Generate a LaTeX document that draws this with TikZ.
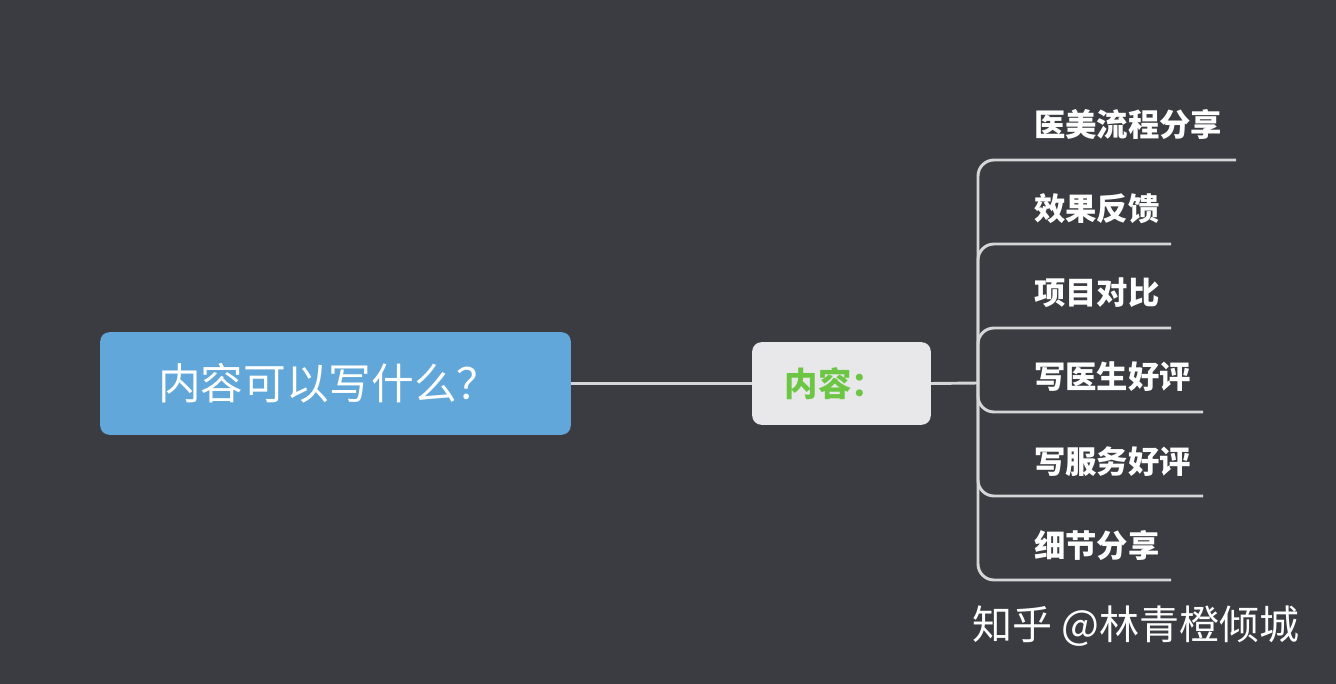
\documentclass[tikz,border=0pt]{standalone}
\usepackage{fontspec}
\setmainfont{Noto Sans CJK SC}
\usetikzlibrary{positioning}
\definecolor{bgc}{HTML}{3B3C41}
\definecolor{rootc}{HTML}{62A7D9}
\definecolor{boxc}{HTML}{E8E8EA}
\definecolor{greenc}{HTML}{6CC644}
\definecolor{linec}{HTML}{D6D6D8}
\tikzset{
  branch/.style={draw=linec,line width=2.2pt},
  leaf/.style={anchor=base west,text=white,font=\fontsize{23.5}{23.5}\selectfont\bfseries,inner sep=0pt}
}
\begin{document}
\begin{tikzpicture}[x=0.75pt,y=-0.75pt]
  \fill[bgc] (0,0) rectangle (1336,684);
  \node[fill=rootc,rounded corners=7pt,minimum width=353pt,minimum height=77pt,text=white,
        font=\fontsize{32}{32}\selectfont] (root) at (335.5,383.5) {\hspace*{-10pt}内容可以写什么？};
  \node[fill=boxc,rounded corners=7pt,minimum width=134pt,minimum height=62pt,text=greenc,
        font=\fontsize{25}{25}\selectfont\bfseries] (content) at (841.5,383.5) {\hspace*{-10pt}内容：};
  \coordinate (hub) at (978,383);
  \draw[branch] (root.east) -- (content.west);
  \draw[branch] (content.east) -- (hub);
  % leaves: label, baseline y, underline end x
  \foreach \name/\txt/\yy/\xe in {a/医美流程分享/150/1236,b/效果反馈/234/1171,c/项目对比/318/1171,
                                  d/写医生好评/402/1203,e/写服务好评/486/1203,f/细节分享/570/1171}{
    \node[leaf] (\name) at (1034,\yy-13) {\txt};
    \coordinate (\name end) at (\xe,\yy+10);
    \draw[branch,rounded corners=12pt] (hub) |- (\name end);
  }
  \node[text=white,font=\fontsize{30}{30}\selectfont,anchor=west,inner sep=0pt] (mark) at (972,626) {知乎 @林青橙倾城};
\end{tikzpicture}
\end{document}
